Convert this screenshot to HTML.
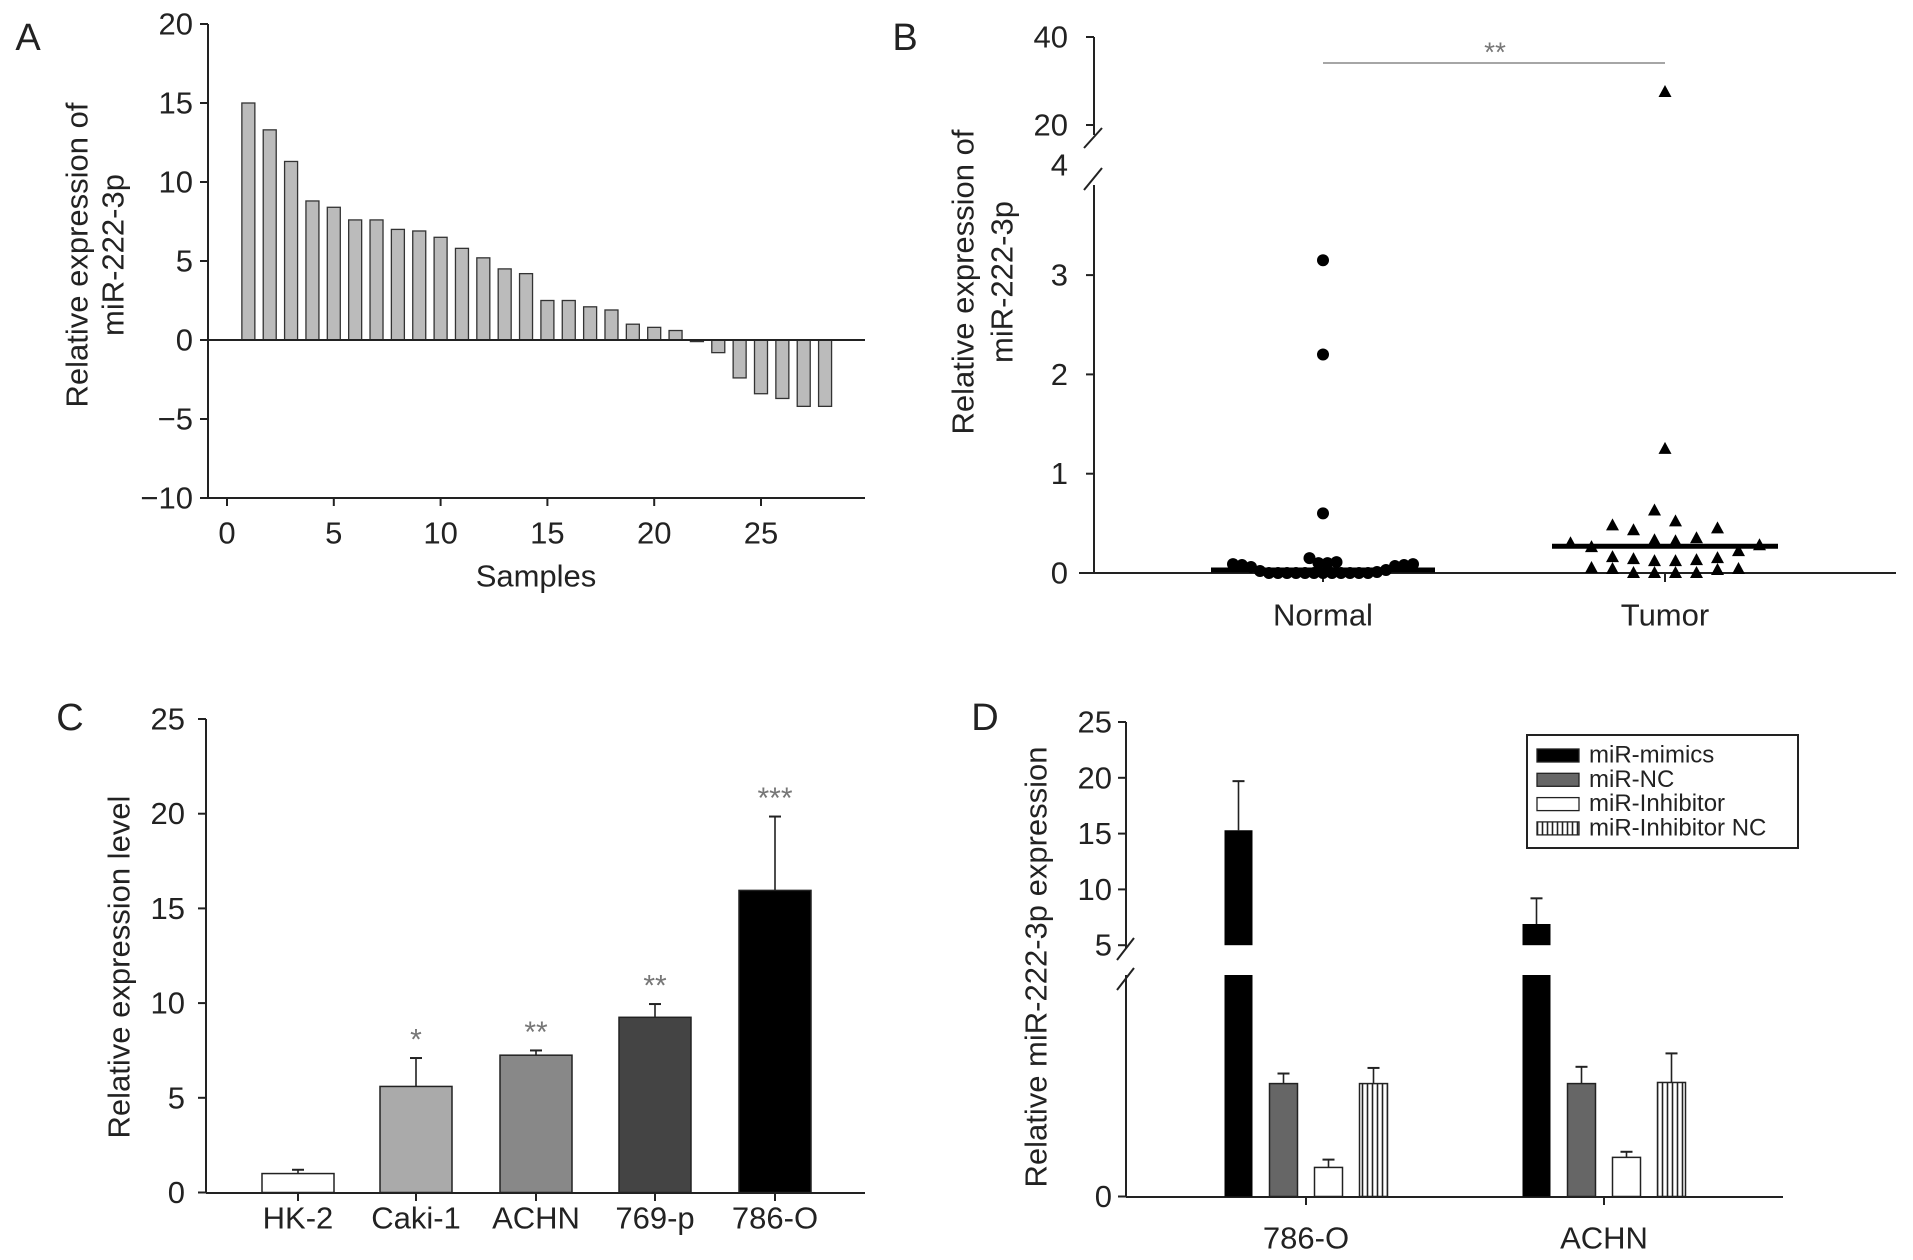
<!DOCTYPE html>
<html><head><meta charset="utf-8">
<style>
html,body{margin:0;padding:0;background:#fff;}
svg{display:block;font-family:"Liberation Sans Narrow","Liberation Sans",sans-serif;}
text{fill:#222;}
</style></head>
<body>
<svg id="fig" width="1913" height="1260" viewBox="0 0 1913 1260" xmlns="http://www.w3.org/2000/svg">
<defs>
<pattern id="vstripe" width="5" height="10" patternUnits="userSpaceOnUse">
<rect width="5" height="10" fill="#fff"/><line x1="2.5" y1="0" x2="2.5" y2="10" stroke="#222" stroke-width="1.6"/>
</pattern>
</defs>
</svg>
<script>
// ---------- Panel A data ----------
const aSamples = [1,2,3,4,5,6,7,8,9,10,11,12,13,14,15,16,17,18,19,20,21,22,23,24,25,26,27,28];
const aValues = [15.0,13.3,11.3,8.8,8.4,7.6,7.6,7.0,6.9,6.5,5.8,5.2,4.5,4.2,2.5,2.5,2.1,1.9,1.0,0.8,0.6,-0.1,-0.8,-2.4,-3.4,-3.7,-4.2,-4.2];
const aYTicks = [20,15,10,5,0,-5,-10];
const aXTicks = [0,5,10,15,20,25];
// ---------- Panel B data ----------
const bGroups = ["Normal","Tumor"];
const bNormal = [3.15,2.2,0.6,0.15,0.11,0.09,0.09,0.08,0.08,0.07,0.1,0.1,0.06,0.03,0.02,0.01,0.0,0.0,0.0,0.0,0.0,0.0,0.0,0.0,0.0,0.0,0.0,0.0];
const bTumor = [27.5,1.25,0.63,0.52,0.48,0.45,0.43,0.35,0.33,0.32,0.3,0.28,0.26,0.22,0.16,0.15,0.14,0.13,0.12,0.12,0.05,0.04,0.04,0.03,0.0,0.0,0.0,0.0];
const bMedians = [0.03,0.27];
const bLowTicks = [0,1,2,3];
const bHighTicks = [20,40];
// ---------- Panel C data ----------
const cCats = ["HK-2","Caki-1","ACHN","769-p","786-O"];
const cVals = [1.0,5.6,7.25,9.25,15.95];
const cErr = [0.2,1.5,0.25,0.7,3.9];
const cStars = ["","*","**","**","***"];
const cColors = ["#fff","#aaa","#888","#444","#000"];
const cYTicks = [0,5,10,15,20,25];
// ---------- Panel D data ----------
const dCats = ["786-O","ACHN"];
const dSeries = ["miR-mimics","miR-NC","miR-Inhibitor","miR-Inhibitor NC"];
const dMimics = [15.3,6.9];
const dMimicsErr = [4.4,2.3];
const dNC = [1.01,1.01];
const dNCErr = [0.09,0.15];
const dInh = [0.26,0.35];
const dInhErr = [0.07,0.05];
const dInhNC = [1.01,1.02];
const dInhNCErr = [0.14,0.26];
const dUpperTicks = [5,10,15,20,25];

const NS="http://www.w3.org/2000/svg";
const FS=31, FT=31;
const svg=document.getElementById('fig');
function el(tag,attrs,parent){const e=document.createElementNS(NS,tag);for(const k in attrs)e.setAttribute(k,attrs[k]);(parent||svg).appendChild(e);return e;}
function txt(s,x,y,size,anchor,parent,rot){const t=el('text',{x:x,y:y,'font-size':size,'text-anchor':anchor||'middle','dominant-baseline':'central'},parent);if(rot)t.setAttribute('transform','rotate(-90 '+x+' '+y+')');t.textContent=s;return t;}
function line(x1,y1,x2,y2,parent,w,c){return el('line',{x1:x1,y1:y1,x2:x2,y2:y2,stroke:c||'#222','stroke-width':w||2},parent);}
let t;

// ===== Panel A =====
const gA=el('g',{});


const ay=v=>340-v*15.8, ax=v=>227+v*21.36;
txt("A",28,38,38,'middle',gA);
line(208,24,208,498,gA);
line(208,498,865,498,gA);
aYTicks.forEach(v=>{line(200,ay(v),208,ay(v),gA);t=txt(v<0?"\u2212"+Math.abs(v):String(v),193,ay(v),FS,'end',gA);});
aXTicks.forEach(v=>{line(ax(v),498,ax(v),506,gA);t=txt(String(v),ax(v),533,FS,'middle',gA);});
aValues.forEach((v,i)=>{const x=ax(aSamples[i]);const y0=ay(0),y1=ay(v);const r=el('rect',{x:x-6.5,y:Math.min(y0,y1),width:13,height:Math.max(1,Math.abs(y1-y0)),fill:'#bbb',stroke:'#333','stroke-width':1.3},gA);});
line(208,ay(0),865,ay(0),gA);
t=txt("Samples",536,576,FT,'middle',gA);
t=txt("Relative expression of",77,255,FT,'middle',gA,true);
t=txt("miR-222-3p",113,255,FT,'middle',gA,true);

// ===== Panel B =====
const gB=el('g',{});


const byLow=v=>573-v*99.3, byHigh=v=>125-(v-20)*4.4;
const by=v=>v>=4?byHigh(v):byLow(v);
const bx=[1323,1665];
txt("B",905,38,38,'middle',gB);
line(1094,573,1094,185,gB);
line(1094,37,1094,135,gB);
line(1084,148,1102,128,gB,2);
line(1084,190,1102,168,gB,2);
line(1079,573,1896,573,gB);
bLowTicks.forEach(v=>{line(1086,byLow(v),1094,byLow(v),gB);t=txt(String(v),1068,byLow(v),FS,'end',gB);});
bHighTicks.forEach(v=>{line(1086,byHigh(v),1094,byHigh(v),gB);t=txt(String(v),1068,byHigh(v),FS,'end',gB);});
t=txt("4",1068,165,FS,'end',gB);
bGroups.forEach((g,i)=>{line(bx[i],573,bx[i],582,gB);t=txt(g,bx[i],615,FS,'middle',gB);});
function swarm(vals,cx,shape,name,sp){
  const bins={};
  vals.forEach(v=>{const k=v>=4?'hi'+Math.round(v):(v<1?Math.round(v/0.2):'o'+v);(bins[k]=bins[k]||[]).push(v);});
  Object.keys(bins).forEach(k=>{const arr=bins[k].slice().sort((a,b)=>a-b);const n=arr.length;
    arr.forEach((v,j)=>{
    const side=(j%2===0)?1:-1;const step=Math.ceil(j/2);
    let off=side*step*sp; if(n%2===0) off=(j%2===0?1:-1)*(Math.floor(j/2)+0.5)*sp;
    const x=cx+off,y=by(v);
    let m;
    if(shape==='circle')m=el('circle',{cx:x,cy:y,r:6,fill:'#000'},gB);
    else m=el('polygon',{points:(x)+','+(y-7)+' '+(x-6.5)+','+(y+5)+' '+(x+6.5)+','+(y+5),fill:'#000'},gB);
    
  });});
}
swarm(bNormal,bx[0],'circle','normal-point',9);
swarm(bTumor,bx[1],'tri','tumor-point',21);
const medW=[112,113];
bMedians.forEach((v,i)=>{const m=line(bx[i]-medW[i],by(v),bx[i]+medW[i],by(v),gB,5,'#000');});
t=line(bx[0],63,bx[1],63,gB,1.5,'#888');
t=txt("**",1495,52,28,'middle',gB);t.style.fill='#777';
t=txt("Relative expression of",963,282,FT,'middle',gB,true);
t=txt("miR-222-3p",1002,282,FT,'middle',gB,true);

// ===== Panel C =====
const gC=el('g',{});


const cy=v=>1192.5-v*18.94;
const cxs=[298,416,536,655,775];
txt("C",70,718,38,'middle',gC);
line(206,cy(25),206,1193,gC);
line(206,1193,865,1193,gC);
cYTicks.forEach(v=>{line(198,cy(v),206,cy(v),gC);t=txt(String(v),185,cy(v),FS,'end',gC);});
cCats.forEach((c,i)=>{
  const x=cxs[i];
  line(x,cy(cVals[i]),x,cy(cVals[i]+cErr[i]),gC,1.6);
  line(x-6,cy(cVals[i]+cErr[i]),x+6,cy(cVals[i]+cErr[i]),gC,2);
  const r=el('rect',{x:x-36,y:cy(cVals[i]),width:72,height:cy(0)-cy(cVals[i]),fill:cColors[i],stroke:'#222','stroke-width':1.5},gC);
  
  line(x,1193,x,1201,gC);
  t=txt(c,x,1218,FS,'middle',gC);
  if(cStars[i]){t=txt(cStars[i],x,cy(cVals[i]+cErr[i])-18,30,'middle',gC);t.style.fill='#777';}
});
t=txt("Relative expression level",119,967,FT,'middle',gC,true);

// ===== Panel D =====
const gD=el('g',{});


const dyLow=v=>1196.5-v*111.8, dyHigh=v=>722+(25-v)*11.16;
const dGroupC=[1306,1604];
const dOff=[-67.5,-22.5,22.5,67.5];
txt("D",985,718,38,'middle',gD);
line(1126,722,1126,948,gD);
line(1126,975,1126,1197,gD);
line(1117,960,1134,938,gD,2);
line(1117,990,1134,968,gD,2);
line(1126,1197,1783,1197,gD);
dUpperTicks.forEach(v=>{line(1118,dyHigh(v),1126,dyHigh(v),gD);t=txt(String(v),1112,dyHigh(v),FS,'end',gD);});
line(1118,dyLow(0),1126,dyLow(0),gD);
t=txt("0",1112,dyLow(0),FS,'end',gD);
function dErr(x,yTop,yErr){line(x,yTop,x,yErr,gD,1.6);line(x-6,yErr,x+6,yErr,gD,2);}
dCats.forEach((c,i)=>{
  const g=dGroupC[i];
  let x=g+dOff[0];
  dErr(x,dyHigh(dMimics[i]),dyHigh(dMimics[i]+dMimicsErr[i]));
  let r=el('rect',{x:x-14,y:dyHigh(dMimics[i]),width:28,height:dyHigh(5)-dyHigh(dMimics[i]),fill:'#000'},gD);
  
  r=el('rect',{x:x-14,y:975,width:28,height:dyLow(0)-975,fill:'#000'},gD);
  
  const rest=[[dNC,dNCErr,'#666','nc'],[dInh,dInhErr,'#fff','inhibitor'],[dInhNC,dInhNCErr,'url(#vstripe)','inhibitor-nc']];
  rest.forEach((s,k)=>{
    x=g+dOff[k+1];
    const v=s[0][i],e=s[1][i];
    dErr(x,dyLow(v),dyLow(v+e));
    r=el('rect',{x:x-14,y:dyLow(v),width:28,height:dyLow(0)-dyLow(v),fill:s[2],stroke:'#222','stroke-width':1.5},gD);
    
  });
  line(g,1197,g,1205,gD);
  t=txt(c,g,1238,FS,'middle',gD);
});
t=txt("Relative miR-222-3p expression",1036,967,FT,'middle',gD,true);
const lg=el('g',{},gD);


el('rect',{x:1527,y:735,width:271,height:113,fill:'#fff',stroke:'#222','stroke-width':2},lg);
const lgFill=['#000','#666','#fff','url(#vstripe)'];
dSeries.forEach((s,i)=>{
  const yy=755+i*24.3;
  el('rect',{x:1537,y:yy-6,width:42,height:13,fill:lgFill[i],stroke:'#222','stroke-width':1.3},lg);
  t=txt(s,1589,yy,24,'start',lg);
});
</script>
</body></html>
